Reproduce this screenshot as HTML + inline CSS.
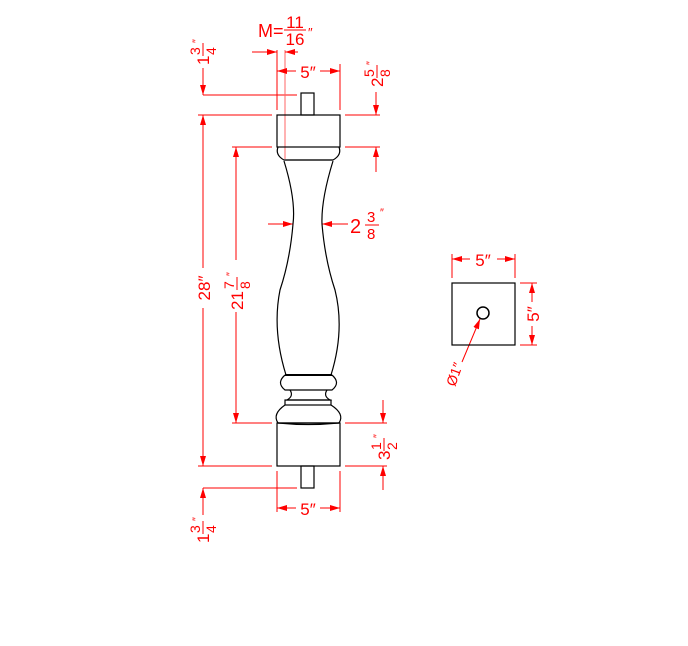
<!DOCTYPE html>
<html><head><style>
html,body{margin:0;padding:0;background:#fff;}
svg{display:block;}
text{font-family:"Liberation Sans",sans-serif;fill:#f00;}
</style></head><body>
<svg width="688" height="646" viewBox="0 0 688 646" xmlns="http://www.w3.org/2000/svg">
<defs>
<marker id="a" viewBox="0 0 10 6" refX="10" refY="3" markerWidth="10" markerHeight="6" markerUnits="userSpaceOnUse" orient="auto-start-reverse"><path d="M0,0L10,3L0,6z" fill="#f00"/></marker>
</defs>
<g stroke="#f00" stroke-width="1" fill="none">
<line x1="203" y1="95" x2="297" y2="95"/>
<line x1="198" y1="115" x2="272" y2="115"/>
<line x1="232" y1="147" x2="272" y2="147"/>
<line x1="345" y1="115" x2="380" y2="115"/>
<line x1="345" y1="147" x2="380" y2="147"/>
<line x1="232" y1="423" x2="272" y2="423"/>
<line x1="198" y1="466" x2="272" y2="466"/>
<line x1="345" y1="423" x2="387" y2="423"/>
<line x1="345" y1="466" x2="387" y2="466"/>
<line x1="203" y1="488" x2="297" y2="488"/>
<line x1="277" y1="64" x2="277" y2="110"/>
<line x1="340" y1="64" x2="340" y2="110"/>
<line x1="277" y1="471" x2="277" y2="512"/>
<line x1="340" y1="471" x2="340" y2="512"/>
<line x1="277" y1="50" x2="277" y2="64"/>
<line x1="285" y1="50" x2="285" y2="160" stroke="#f66"/>
<line x1="203" y1="115" x2="203" y2="268" marker-start="url(#a)"/>
<line x1="203" y1="308" x2="203" y2="466" marker-end="url(#a)"/>
<line x1="236" y1="147" x2="236" y2="260" marker-start="url(#a)"/>
<line x1="236" y1="312" x2="236" y2="423" marker-end="url(#a)"/>
<line x1="203" y1="68" x2="203" y2="95" marker-end="url(#a)"/>
<line x1="203" y1="488" x2="203" y2="515" marker-start="url(#a)"/>
<line x1="376" y1="92" x2="376" y2="115" marker-end="url(#a)"/>
<line x1="376" y1="147" x2="376" y2="172" marker-start="url(#a)"/>
<line x1="383" y1="400" x2="383" y2="423" marker-end="url(#a)"/>
<line x1="383" y1="466" x2="383" y2="490" marker-start="url(#a)"/>
<line x1="277" y1="71" x2="296" y2="71" marker-start="url(#a)"/>
<line x1="320" y1="71" x2="340" y2="71" marker-end="url(#a)"/>
<line x1="252" y1="52" x2="277" y2="52" marker-end="url(#a)"/>
<line x1="298" y1="52" x2="285" y2="52" marker-end="url(#a)"/>
<line x1="277" y1="508" x2="296" y2="508" marker-start="url(#a)"/>
<line x1="320" y1="508" x2="340" y2="508" marker-end="url(#a)"/>
<line x1="268" y1="224" x2="293" y2="224" marker-end="url(#a)"/>
<line x1="348" y1="224" x2="322" y2="224" marker-end="url(#a)"/>
<line x1="452" y1="254" x2="452" y2="278"/>
<line x1="515" y1="254" x2="515" y2="278"/>
<line x1="452" y1="259" x2="470" y2="259" marker-start="url(#a)"/>
<line x1="497" y1="259" x2="515" y2="259" marker-end="url(#a)"/>
<line x1="520" y1="283" x2="537" y2="283"/>
<line x1="520" y1="345" x2="537" y2="345"/>
<line x1="532" y1="283" x2="532" y2="302" marker-start="url(#a)"/>
<line x1="532" y1="326" x2="532" y2="345" marker-end="url(#a)"/>
<line x1="462" y1="362" x2="480" y2="319" marker-end="url(#a)"/>
</g>
<g stroke="#000" stroke-width="1.2" fill="none">
<rect x="301" y="93" width="13" height="22"/>
<rect x="277" y="115" width="63" height="32"/>
<path d="M278,147 Q275,155 284,160 L333,160 Q342,155 339,147"/>
<line x1="284" y1="160" x2="333" y2="160" stroke="#555" stroke-width="2"/>
<path d="M284,161 Q296,200 293,224 Q290,260 280,290 Q272,330 286,375"/>
<path d="M333,161 Q321,200 322,224 Q325,260 335,290 Q345,330 331,375"/>
<line x1="285" y1="375" x2="332" y2="375" stroke-width="2"/>
<path d="M285,375 Q276,383 285,390 L332,390 Q341,383 332,375"/>
<path d="M290,390 Q294,396 287,400 L330,400 Q323,396 327,390"/>
<rect x="285" y="400" width="46" height="5"/>
<path d="M285,405 Q272,414 278,423 L339,423 Q345,414 331,405"/>
<path d="M278,423 Q308,426 339,423"/>
<rect x="277" y="423" width="63" height="43"/>
<rect x="301" y="466" width="13" height="22"/>
<rect x="452" y="283" width="63" height="62"/>
<circle cx="483" cy="313" r="6" stroke-width="1.5"/>
</g>
<text x="308" y="78" font-size="17" text-anchor="middle">5″</text>
<text x="308" y="515" font-size="17" text-anchor="middle">5″</text>
<text x="483" y="266" font-size="17" text-anchor="middle">5″</text>
<text x="258" y="37" font-size="18">M=</text>
<text x="295" y="28" font-size="17" text-anchor="middle">11</text>
<line x1="284" y1="30" x2="306" y2="30" stroke="#f00"/>
<text x="295" y="45" font-size="17" text-anchor="middle">16</text>
<text x="308" y="37" font-size="13">″</text>
<text x="350" y="233" font-size="20">2</text>
<text x="367" y="222" font-size="15">3</text>
<line x1="365" y1="225" x2="379" y2="225" stroke="#f00"/>
<text x="367" y="239" font-size="15">8</text>
<text x="380" y="216" font-size="11">″</text>
<g transform="translate(210,288) rotate(-90)"><text x="0" y="0" font-size="17" text-anchor="middle">28″</text></g>
<g transform="translate(243,286) rotate(-90)"><text x="-24" y="0" font-size="17">21</text><text x="-3" y="-9" font-size="14">7</text><line x1="-4" y1="-6" x2="9" y2="-6" stroke="#f00"/><text x="-3" y="7" font-size="14">8</text><text x="10" y="-9" font-size="11">″</text></g>
<g transform="translate(209,52) rotate(-90)"><text x="-13" y="0" font-size="17">1</text><text x="-3" y="-9" font-size="14">3</text><line x1="-4" y1="-6" x2="9" y2="-6" stroke="#f00"/><text x="-3" y="7" font-size="14">4</text><text x="9" y="-9" font-size="11">″</text></g>
<g transform="translate(209,530) rotate(-90)"><text x="-13" y="0" font-size="17">1</text><text x="-3" y="-9" font-size="14">3</text><line x1="-4" y1="-6" x2="9" y2="-6" stroke="#f00"/><text x="-3" y="7" font-size="14">4</text><text x="9" y="-9" font-size="11">″</text></g>
<g transform="translate(383,74) rotate(-90)"><text x="-13" y="0" font-size="17">2</text><text x="-3" y="-9" font-size="14">5</text><line x1="-4" y1="-6" x2="9" y2="-6" stroke="#f00"/><text x="-3" y="7" font-size="14">8</text><text x="9" y="-9" font-size="11">″</text></g>
<g transform="translate(390,447) rotate(-90)"><text x="-13" y="0" font-size="17">3</text><text x="-3" y="-9" font-size="14">1</text><line x1="-4" y1="-6" x2="9" y2="-6" stroke="#f00"/><text x="-3" y="7" font-size="14">2</text><text x="9" y="-9" font-size="11">″</text></g>
<g transform="translate(539,314) rotate(-90)"><text x="0" y="0" font-size="17" text-anchor="middle">5″</text></g>
<g transform="translate(459,376) rotate(-70)"><text x="0" y="0" font-size="14" text-anchor="middle">Ø1″</text></g>
</svg>
</body></html>
